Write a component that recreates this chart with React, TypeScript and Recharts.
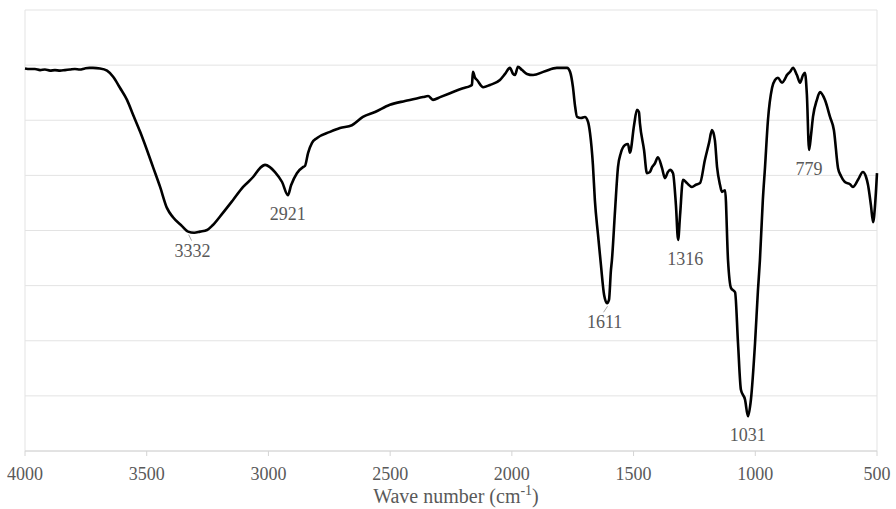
import React from 'react';
import { LineChart, Line, XAxis, YAxis, CartesianGrid, ReferenceDot, Label } from 'recharts';

// FTIR spectrum (arbitrary transmittance units)
const waveNumbers = [
  4000, 3980, 3959, 3938, 3918, 3897, 3877, 3856, 3836, 3815, 3795, 3775, 3754, 3735, 3721, 3692,
  3663, 3638, 3610, 3581, 3556, 3527, 3499, 3474, 3445, 3417, 3392, 3355, 3330, 3305, 3281, 3252,
  3228, 3187, 3146, 3104, 3063, 3035, 3014, 2994, 2973, 2944, 2920, 2907, 2883, 2858, 2850, 2837,
  2821, 2800, 2747, 2706, 2657, 2612, 2562, 2501, 2439, 2365, 2344, 2324, 2295, 2254, 2201, 2172,
  2164, 2160, 2151, 2143, 2118, 2090, 2049, 2028, 2008, 1995, 1987, 1975, 1958, 1938, 1913, 1864,
  1815, 1773, 1761, 1749, 1741, 1732, 1716, 1700, 1687, 1679, 1667, 1659, 1646, 1634, 1621, 1609,
  1601, 1593, 1589, 1576, 1564, 1552, 1535, 1523, 1515, 1498, 1486, 1478, 1474, 1457, 1445, 1433,
  1424, 1412, 1400, 1383, 1371, 1359, 1350, 1338, 1326, 1317, 1309, 1297, 1281, 1260, 1244, 1227,
  1207, 1190, 1178, 1166, 1157, 1145, 1137, 1124, 1112, 1100, 1083, 1071, 1059, 1042, 1030, 1018,
  1001, 989, 981, 969, 960, 948, 931, 919, 907, 890, 878, 870, 857, 845, 829, 816,
  804, 796, 788, 779, 771, 763, 747, 734, 714, 693, 677, 660, 648, 632, 611, 599,
  578, 558, 545, 537, 525, 516, 508, 500,
];

const signal = [
  69.4, 69.3, 69.3, 69.1, 69.2, 69.0, 69.1, 69.0, 69.1, 69.2, 69.3, 69.2, 69.4, 69.5, 69.5, 69.4,
  69.0, 67.9, 65.9, 63.7, 61.0, 57.9, 54.6, 51.5, 47.9, 44.1, 42.4, 40.8, 39.8, 39.6, 39.8, 40.1,
  41.0, 43.2, 45.5, 47.9, 49.7, 51.3, 51.9, 51.5, 50.6, 48.8, 46.4, 48.2, 50.4, 51.5, 51.7, 54.1,
  55.9, 56.8, 57.9, 58.6, 59.1, 60.6, 61.5, 62.8, 63.5, 64.2, 64.4, 63.7, 64.2, 64.9, 65.8, 66.2,
  66.4, 68.8, 67.7, 67.3, 66.0, 66.4, 67.3, 68.4, 69.5, 68.4, 68.2, 69.7, 69.1, 68.4, 68.2, 68.9,
  69.5, 69.5, 68.8, 66.0, 62.8, 60.6, 60.4, 60.6, 59.7, 57.7, 51.9, 45.5, 39.2, 33.7, 28.3, 26.8,
  27.4, 32.8, 34.6, 43.7, 51.5, 54.1, 55.5, 55.7, 54.1, 59.1, 61.9, 61.5, 59.5, 54.6, 50.4, 50.6,
  51.5, 52.2, 53.3, 51.3, 49.5, 50.6, 51.0, 50.4, 44.6, 38.3, 42.8, 49.2, 48.6, 47.9, 48.3, 48.6,
  52.8, 55.9, 58.2, 56.4, 51.5, 48.3, 47.0, 47.3, 34.6, 29.6, 28.8, 19.6, 11.1, 9.3, 6.3, 9.3,
  19.6, 29.2, 34.6, 45.5, 51.5, 60.0, 65.9, 67.3, 67.7, 66.8, 67.5, 68.2, 68.8, 69.5, 68.2, 66.8,
  68.2, 68.6, 64.6, 54.6, 57.3, 60.6, 63.7, 65.1, 63.7, 60.6, 58.2, 51.3, 49.9, 48.8, 48.4, 47.9,
  49.2, 50.6, 49.7, 48.3, 44.6, 41.5, 44.6, 50.4,
];

const peakWaveNumbers = [3332, 2921, 1611, 1316, 1031, 779];
const peakValues = [39.8, 46.4, 26.8, 38.3, 6.3, 54.6];

const xTicks = [4000, 3500, 3000, 2500, 2000, 1500, 1000, 500];
const yTicks = [0, 10, 20, 30, 40, 50, 60, 70, 80];

const data = waveNumbers.map((wn, i) => ({ wn, t: signal[i] }));

const FONT = 'Liberation Serif, serif';
const TEXT = '#595959';
const AXIS_COLOR = '#d4d4d4';
// small horizontal nudges and leader lines for a few peak labels, as in the original
const labelNudge: Record<number, number> = { 3332: 5, 1316: 7, 1611: -2 };
const withLeader = [3332, 1611];

// tick mark + label drawn at the bottom of the plot for one x tick
const tickMark = (value: number) => (props: any) => (
  <g>
    <line x1={props.cx} y1={props.cy} x2={props.cx} y2={props.cy + 5} stroke={AXIS_COLOR} strokeWidth={1} />
    <text x={props.cx} y={props.cy + 29} textAnchor="middle" style={{ fontFamily: FONT, fontSize: 18, fill: TEXT }}>
      {value}
    </text>
  </g>
);

const AxisTitle = (props: any) => {
  const vb = props.viewBox || {};
  const cx = vb.x + vb.width / 2 + 5;
  return (
    <text x={cx} y={503} textAnchor="middle" style={{ fontFamily: FONT, fontSize: 20, fill: TEXT }}>
      Wave number (cm
      <tspan style={{ fontSize: 14 }} dy={-8}>-1</tspan>
      <tspan dy={8}>)</tspan>
    </text>
  );
};

const peakLabel = (wn: number) => (props: any) => {
  const lx = props.cx + (labelNudge[wn] || 0);
  return (
    <g>
      {withLeader.includes(wn) && (
        <line x1={props.cx + 1} y1={props.cy + 3} x2={lx - 1} y2={props.cy + 9} stroke="#a6a6a6" strokeWidth={1} />
      )}
      <text x={lx} y={props.cy + 25} textAnchor="middle" style={{ fontFamily: FONT, fontSize: 18, fill: TEXT }}>
        {wn}
      </text>
    </g>
  );
};

export default function App() {
  return (
    <div style={{ position: 'absolute', left: 0, top: 0, background: '#fff' }}>
      <LineChart width={896} height={509} data={data} margin={{ top: 10, right: 19, bottom: 28, left: 25 }}>
        <CartesianGrid stroke="#e3e3e3" strokeWidth={1} />
        <XAxis
          dataKey="wn"
          type="number"
          domain={[500, 4000]}
          reversed
          ticks={xTicks}
          interval={0}
          height={30}
          stroke={AXIS_COLOR}
          tick={false}
          tickLine={false}
        >
          <Label content={AxisTitle} />
        </XAxis>
        <YAxis hide type="number" domain={[0, 80]} ticks={yTicks} />
        <Line
          type="monotone"
          dataKey="t"
          stroke="#000"
          strokeWidth={2.6}
          dot={false}
          activeDot={false}
          isAnimationActive={false}
        />
        {xTicks.map((t) => (
          <ReferenceDot key={`tick-${t}`} x={t} y={0} r={0} ifOverflow="visible" shape={tickMark(t)} />
        ))}
        {peakWaveNumbers.map((wn, i) => (
          <ReferenceDot
            key={wn}
            x={wn}
            y={peakValues[i]}
            r={0}
            ifOverflow="visible"
            shape={peakLabel(wn)}
          />
        ))}
      </LineChart>
    </div>
  );
}
